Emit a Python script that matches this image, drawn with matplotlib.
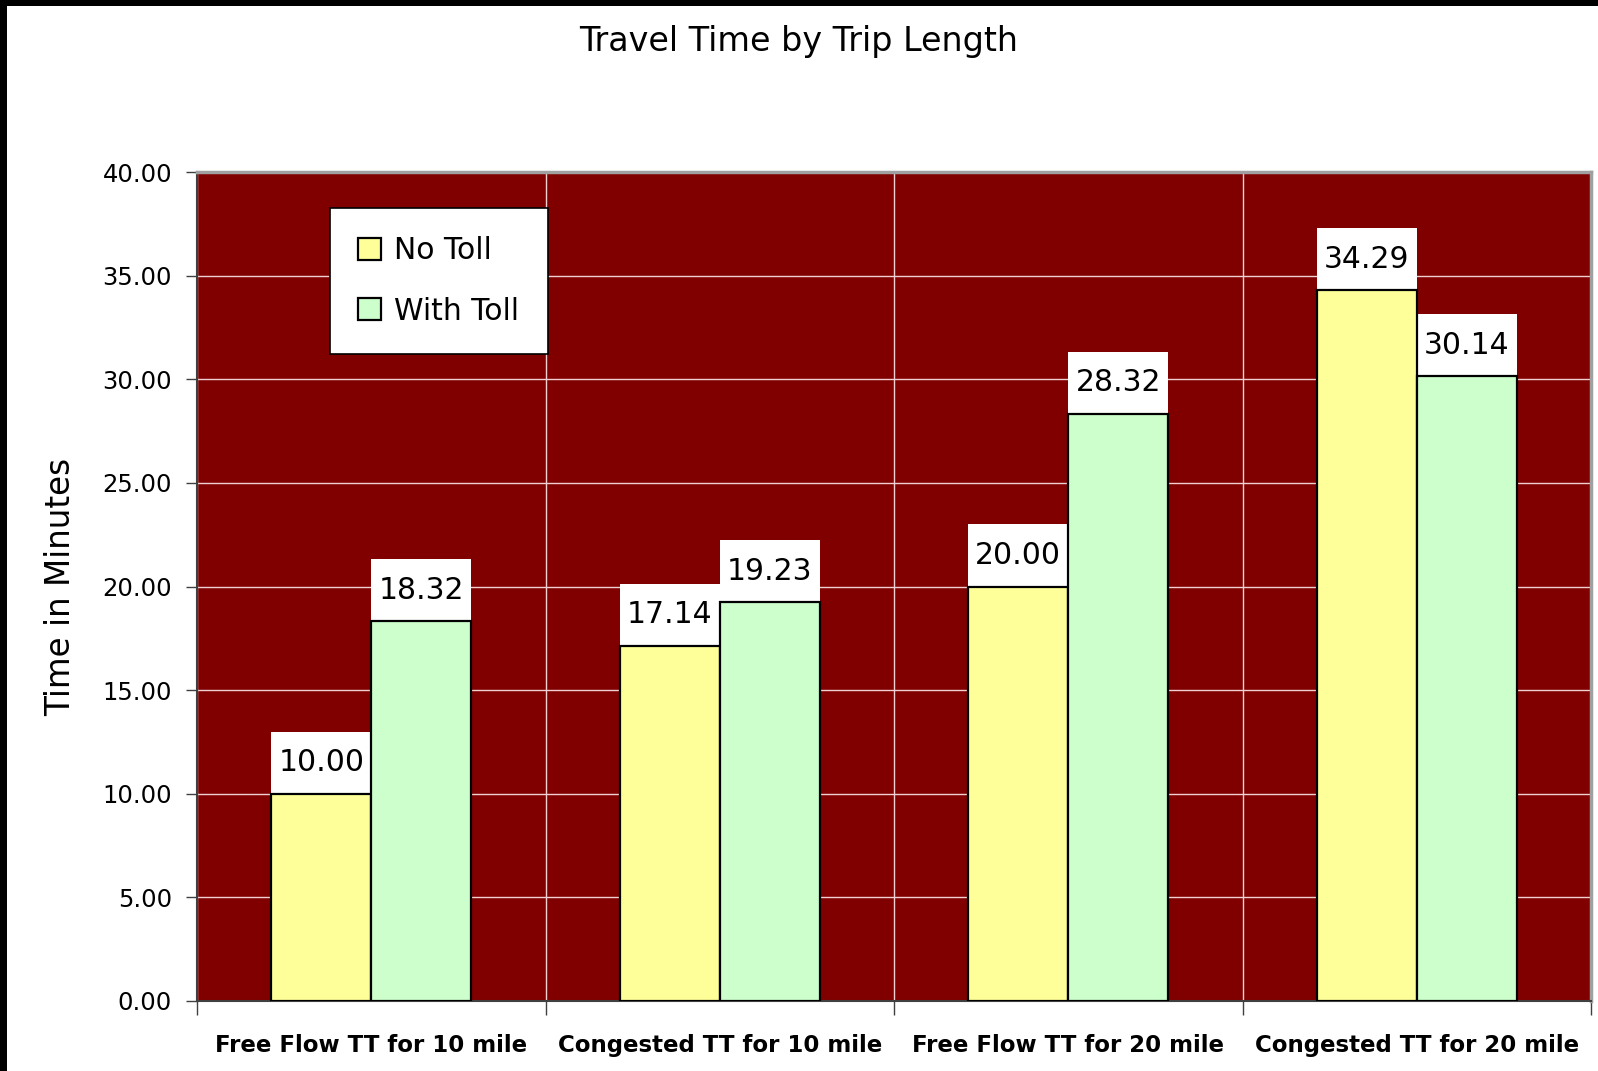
import matplotlib
matplotlib.use("Agg")
import matplotlib.pyplot as plt
from matplotlib.patches import Rectangle
import numpy as np

# -----------------------------
# data
# -----------------------------
categories = ["Free Flow TT for 10 mile", "Congested TT for 10 mile",
              "Free Flow TT for 20 mile", "Congested TT for 20 mile"]
no_toll = [10.00, 17.14, 20.00, 34.29]
with_toll = [18.32, 19.23, 28.32, 30.14]
series_names = ["No Toll", "With Toll"]
y_ticks = [0, 5, 10, 15, 20, 25, 30, 35, 40]

# -----------------------------
# figure + axes
# -----------------------------
fig = plt.figure(figsize=(15.98, 10.71), dpi=100)
fig.patch.set_facecolor("white")
ax = fig.add_axes([197 / 1598, 70 / 1071, 1394 / 1598, 829 / 1071])
ax.set_facecolor("#800000")

x = np.arange(len(categories))
w = 0.287

ax.bar(x - w / 2, no_toll, w, color="#FFFF99", edgecolor="black",
       linewidth=1.6, label=series_names[0], zorder=3)
ax.bar(x + w / 2, with_toll, w, color="#CCFFCC", edgecolor="black",
       linewidth=1.6, label=series_names[1], zorder=3)

# value boxes sitting on top of each bar
box_h = 3.0
for xs, vals in [(x - w / 2, no_toll), (x + w / 2, with_toll)]:
    for xi, v in zip(xs, vals):
        ax.add_patch(Rectangle((xi - w / 2, v), w, box_h,
                               facecolor="white", edgecolor="none", zorder=2.9))
        ax.text(xi, v + box_h / 2, f"{v:.2f}", ha="center", va="center",
                fontsize=21.5, color="black", zorder=5)

# -----------------------------
# axes styling
# -----------------------------
ax.set_xlim(-0.5, 3.5)
ax.set_ylim(0, 40)
ax.set_yticks(y_ticks)
ax.set_yticklabels([f"{t:.2f}" for t in y_ticks], fontsize=17.5)
ax.set_xticks(x)
ax.set_xticklabels(categories, fontsize=16.5, fontweight="bold")
ax.set_xticks(np.arange(-0.5, 4, 1), minor=True)
ax.tick_params(axis="x", which="major", length=0, pad=24)
ax.tick_params(axis="x", which="minor", length=10, width=1, color="#404040")
ax.tick_params(axis="y", length=8, width=1, color="#404040", pad=10)

ax.grid(axis="y", which="major", color="#F0D0D0", linewidth=1, zorder=1)
ax.grid(axis="x", which="minor", color="#F0D0D0", linewidth=1, zorder=1)
ax.set_axisbelow(True)

for side in ["top", "right"]:
    ax.spines[side].set_color("#A0A0A0")
    ax.spines[side].set_linewidth(2.5)
for side in ["left", "bottom"]:
    ax.spines[side].set_color("#404040")
    ax.spines[side].set_linewidth(1.5)

ax.set_ylabel("Time in Minutes", fontsize=23.5, labelpad=18)
fig.text(0.5, 1 - 41 / 1071, "Travel Time by Trip Length", ha="center",
         va="center", fontsize=24)

leg = ax.legend(loc="upper left", bbox_to_anchor=(0.0954, 0.9566),
                fontsize=21.5, frameon=True, fancybox=False, framealpha=1,
                edgecolor="black", handlelength=0.75, handleheight=0.75,
                handletextpad=0.45, labelspacing=1.05, borderpad=0.95,
                borderaxespad=0)
leg.get_frame().set_linewidth(1.2)
leg.set_zorder(6)

# black border on the top and left edges
fig.patches.append(Rectangle((0, 1 - 6 / 1071), 1, 6 / 1071, transform=fig.transFigure,
                             facecolor="black", edgecolor="none"))
fig.patches.append(Rectangle((0, 0), 7 / 1598, 1, transform=fig.transFigure,
                             facecolor="black", edgecolor="none"))

plt.savefig("out.png", dpi=100)
